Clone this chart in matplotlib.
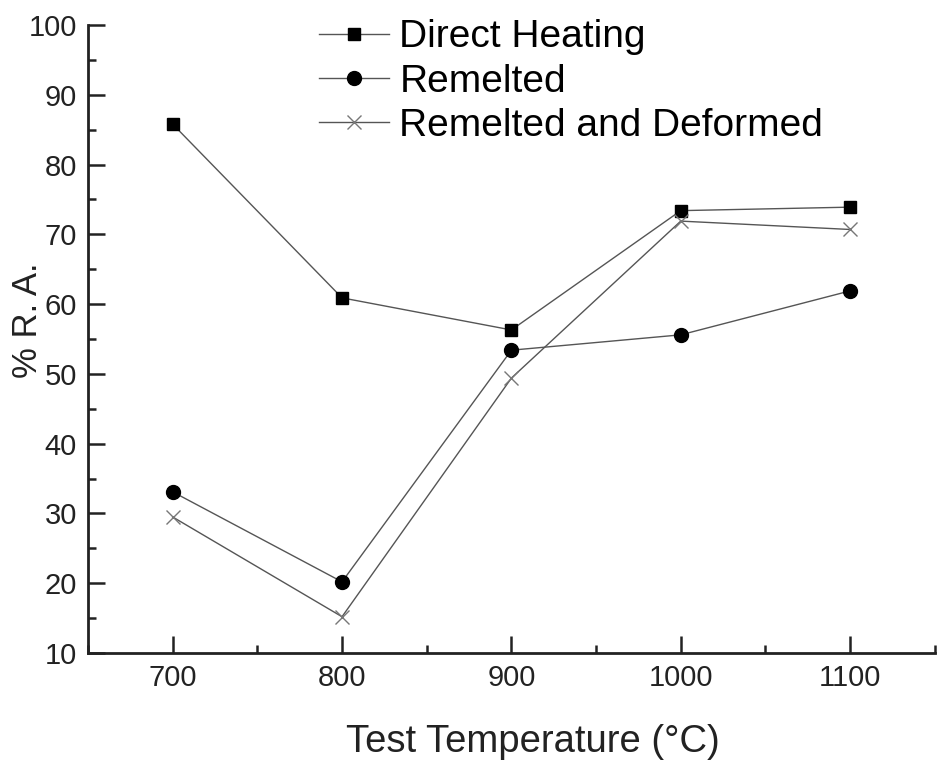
import matplotlib
matplotlib.use('Agg')
import matplotlib.pyplot as plt
from matplotlib.ticker import MultipleLocator

plt.rcParams['font.family'] = ['Liberation Sans', 'DejaVu Sans']

temps = [700, 800, 900, 1000, 1100]
direct_heating = [85.8, 60.9, 56.3, 73.4, 73.9]
remelted = [33.1, 20.2, 53.4, 55.6, 61.9]
remelted_deformed = [29.5, 15.2, 49.4, 71.9, 70.7]

fig = plt.figure(figsize=(9.43, 7.61), dpi=100)
ax = fig.add_axes([0.0933, 0.1419, 0.898, 0.8252])

line_c = '#555555'
ax.plot(temps, direct_heating, '-', color=line_c, lw=1.0, marker='s', ms=9,
        mfc='black', mec='black', label='Direct Heating')
ax.plot(temps, remelted, '-', color=line_c, lw=1.0, marker='o', ms=10,
        mfc='black', mec='black', label='Remelted')
ax.plot(temps, remelted_deformed, '-', color=line_c, lw=1.0, marker='x', ms=10,
        mec='#777777', mew=1.0, label='Remelted and Deformed')

ax.set_xlim(650, 1150)
ax.set_ylim(10, 100)
ax.xaxis.set_major_locator(MultipleLocator(100))
ax.xaxis.set_minor_locator(MultipleLocator(50))
ax.yaxis.set_major_locator(MultipleLocator(10))
ax.yaxis.set_minor_locator(MultipleLocator(5))

ax.spines['top'].set_visible(False)
ax.spines['right'].set_visible(False)
for s in ('left', 'bottom'):
    ax.spines[s].set_linewidth(2.0)
    ax.spines[s].set_color('#222222')

ax.tick_params(which='major', direction='in', length=12, width=1.8, labelsize=21,
               colors='#222222', pad=8)
ax.tick_params(which='minor', direction='in', length=6, width=1.8, colors='#222222')

ax.set_xlabel('Test Temperature (°C)', fontsize=27.5, labelpad=23, color='#222222')
ax.xaxis.label.set_x(0.525)
ax.set_ylabel('% R. A.', fontsize=25, color='#222222')
ax.yaxis.set_label_coords(-0.052, 0.53)

ax.legend(loc='upper left', bbox_to_anchor=(0.318, 1.0), bbox_transform=fig.transFigure,
          frameon=False, fontsize=28, handlelength=1.8, handletextpad=0.26,
          labelspacing=0.21, borderaxespad=0.1)

fig.savefig('out.png', dpi=100)
